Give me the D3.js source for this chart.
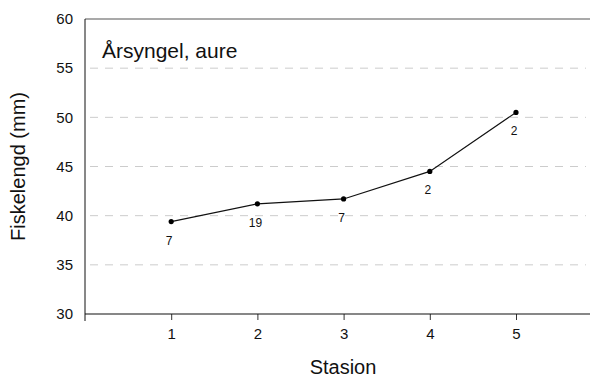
<!DOCTYPE html>
<html>
<head>
<meta charset="utf-8">
<script src="https://cdn.jsdelivr.net/npm/d3@7"></script>
<style>
  html, body { margin: 0; padding: 0; background: #fff; }
  svg { display: block; font-family: "Liberation Sans", Arial, sans-serif; }
</style>
</head>
<body>
<svg id="chart" width="590" height="378"></svg>
<script>
// Mean fish length per station (young-of-the-year trout) and sample counts
const stations = [1, 2, 3, 4, 5];
const meanLength = [39.4, 41.2, 41.7, 44.5, 50.5];
const sampleCount = [7, 19, 7, 2, 2];
const yTicks = [30, 35, 40, 45, 50, 55, 60];
const gridValues = [35, 40, 45, 50, 55];

const svg = d3.select("#chart");
const W = 590, H = 378;
const plotLeft = 85, plotTop = 19, plotBottom = 314;

const x = d3.scaleLinear().domain([0, 6]).range([plotLeft, plotLeft + 6 * 86.2]);
const y = d3.scaleLinear().domain([30, 60]).range([plotBottom, plotTop]);

// dashed horizontal gridlines
svg.append("g").selectAll("line").data(gridValues).join("line")
  .attr("x1", plotLeft + 5).attr("x2", 586)
  .attr("y1", d => y(d)).attr("y2", d => y(d))
  .attr("stroke", "#cccccc").attr("stroke-width", 1)
  .attr("stroke-dasharray", "8,7");

// top frame line
svg.append("line")
  .attr("x1", plotLeft).attr("x2", W).attr("y1", plotTop).attr("y2", plotTop)
  .attr("stroke", "#555").attr("stroke-width", 1.2);

// y axis
const yAxis = d3.axisLeft(y).tickValues(yTicks).tickSize(0).tickPadding(12);
const gy = svg.append("g").attr("transform", `translate(${plotLeft},0)`).call(yAxis);
gy.select(".domain").remove();
gy.selectAll("text").attr("font-size", 15).attr("fill", "#111")
  .attr("font-family", "Liberation Sans, Arial, sans-serif");
svg.append("line")
  .attr("x1", plotLeft).attr("x2", plotLeft).attr("y1", plotTop).attr("y2", plotBottom + 7)
  .attr("stroke", "#111").attr("stroke-width", 1);

// x axis
const xAxis = d3.axisBottom(x).tickValues(stations).tickSize(6).tickPadding(8)
  .tickFormat(d3.format("d"));
const gx = svg.append("g").attr("transform", `translate(0,${plotBottom})`).call(xAxis);
gx.select(".domain").remove();
gx.selectAll(".tick line").attr("stroke", "#333");
gx.selectAll("text").attr("font-size", 15).attr("fill", "#111")
  .attr("font-family", "Liberation Sans, Arial, sans-serif");
svg.append("line")
  .attr("x1", plotLeft).attr("x2", W).attr("y1", plotBottom).attr("y2", plotBottom)
  .attr("stroke", "#111").attr("stroke-width", 1.2);

// data line and points
const pts = stations.map((s, i) => ({ s, v: meanLength[i], n: sampleCount[i] }));
svg.append("path").datum(pts)
  .attr("fill", "none").attr("stroke", "#111").attr("stroke-width", 1.2)
  .attr("d", d3.line().x(d => x(d.s)).y(d => y(d.v)));
svg.append("g").selectAll("circle").data(pts).join("circle")
  .attr("cx", d => x(d.s)).attr("cy", d => y(d.v)).attr("r", 2.6)
  .attr("fill", "#000");
svg.append("g").selectAll("text").data(pts).join("text")
  .attr("x", d => x(d.s) - 2).attr("y", d => y(d.v) + 23)
  .attr("text-anchor", "middle").attr("font-size", 12).attr("fill", "#111")
  .text(d => d.n);

// panel title
svg.append("text").attr("x", 102).attr("y", 58)
  .attr("font-size", 21).attr("fill", "#111").text("Årsyngel, aure");

// axis titles
svg.append("text").attr("x", 343).attr("y", 374)
  .attr("text-anchor", "middle").attr("font-size", 20).attr("fill", "#111")
  .text("Stasion");
svg.append("text")
  .attr("transform", `translate(25,${(plotTop + plotBottom) / 2}) rotate(-90)`)
  .attr("text-anchor", "middle").attr("font-size", 20).attr("fill", "#111")
  .text("Fiskelengd (mm)");
</script>
</body>
</html>
